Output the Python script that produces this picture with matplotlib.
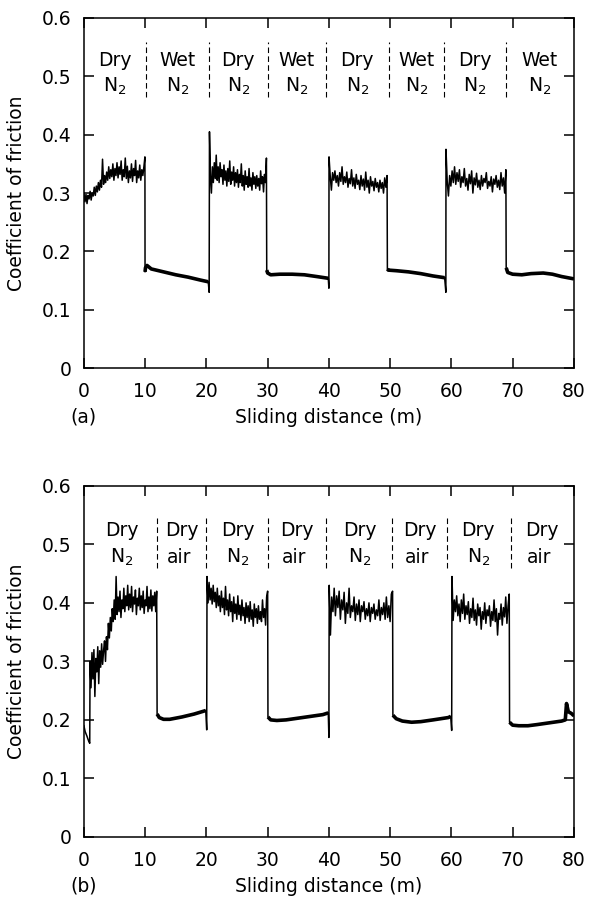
import numpy as np
import matplotlib
matplotlib.use("Agg")
import matplotlib.pyplot as plt

plt.rcParams['font.family'] = ['DejaVu Sans']
plt.rcParams['mathtext.fontset'] = 'dejavusans'

# ---------------- panel (a): dry N2 / wet N2 ----------------
a_dry1_span = (0.0, 9.96)
a_dry1 = [0.300, 0.285, 0.298, 0.282, 0.296, 0.290, 0.303, 0.288, 0.300, 0.295,
          0.310, 0.296, 0.312, 0.302, 0.318, 0.305, 0.322, 0.310, 0.358, 0.315,
          0.330, 0.318, 0.336, 0.322, 0.345, 0.325, 0.340, 0.328, 0.350, 0.322,
          0.342, 0.330, 0.352, 0.326, 0.345, 0.332, 0.355, 0.322, 0.340, 0.328,
          0.360, 0.325, 0.346, 0.318, 0.338, 0.326, 0.350, 0.320, 0.342, 0.330,
          0.356, 0.318, 0.338, 0.326, 0.348, 0.322, 0.340, 0.330, 0.345, 0.362]
a_wet1_x = [9.98, 10.05, 10.3, 11, 13, 15, 17, 19, 20.3, 20.45]
a_wet1_y = [0.165, 0.172, 0.176, 0.170, 0.165, 0.160, 0.156, 0.151, 0.148, 0.130]

a_dry2_span = (20.5, 29.8)
a_dry2 = [0.405, 0.330, 0.300, 0.345, 0.318, 0.352, 0.325, 0.365, 0.322, 0.345,
          0.318, 0.352, 0.328, 0.340, 0.315, 0.348, 0.322, 0.338, 0.312, 0.342,
          0.320, 0.355, 0.315, 0.336, 0.322, 0.345, 0.312, 0.335, 0.318, 0.340,
          0.310, 0.332, 0.318, 0.350, 0.312, 0.330, 0.305, 0.338, 0.315, 0.328,
          0.310, 0.342, 0.312, 0.326, 0.305, 0.335, 0.315, 0.328, 0.308, 0.330,
          0.312, 0.325, 0.305, 0.338, 0.316, 0.328, 0.302, 0.332, 0.318, 0.360]
a_wet2_x = [29.85, 30.0, 30.5, 32, 34, 36, 38, 39.9, 40.0]
a_wet2_y = [0.168, 0.163, 0.160, 0.161, 0.161, 0.160, 0.157, 0.154, 0.137]

a_dry3_span = (40.02, 49.5)
a_dry3 = [0.362, 0.330, 0.305, 0.335, 0.322, 0.338, 0.318, 0.330, 0.312, 0.335,
          0.320, 0.345, 0.315, 0.328, 0.318, 0.336, 0.310, 0.325, 0.316, 0.340,
          0.312, 0.326, 0.308, 0.332, 0.315, 0.322, 0.306, 0.330, 0.312, 0.324,
          0.305, 0.336, 0.310, 0.322, 0.300, 0.328, 0.312, 0.320, 0.304, 0.325,
          0.310, 0.318, 0.302, 0.322, 0.308, 0.318, 0.300, 0.326, 0.310, 0.330]
a_wet3_x = [49.55, 49.7, 51, 53, 55, 57, 58.9, 59.1]
a_wet3_y = [0.170, 0.168, 0.167, 0.165, 0.162, 0.158, 0.155, 0.130]

a_dry4_span = (59.12, 68.9)
a_dry4 = [0.375, 0.320, 0.295, 0.330, 0.312, 0.338, 0.318, 0.345, 0.315, 0.335,
          0.320, 0.340, 0.310, 0.328, 0.318, 0.342, 0.312, 0.325, 0.305, 0.332,
          0.316, 0.338, 0.300, 0.326, 0.314, 0.334, 0.310, 0.322, 0.306, 0.330,
          0.312, 0.325, 0.318, 0.335, 0.308, 0.320, 0.312, 0.328, 0.302, 0.324,
          0.315, 0.330, 0.310, 0.322, 0.306, 0.335, 0.312, 0.326, 0.300, 0.340]
a_wet4_x = [68.95, 69.2, 70, 71.5, 73, 75, 76.5, 78, 80]
a_wet4_y = [0.172, 0.164, 0.161, 0.160, 0.162, 0.163, 0.161, 0.157, 0.153]

a_dividers = [10.1, 20.4, 30.0, 39.5, 49.8, 58.8, 68.9]
a_label_x = [5.05, 15.25, 25.2, 34.75, 44.65, 54.3, 63.85, 74.45]
a_top = ["Dry", "Wet"] * 4
a_bottom = ["N$_2$"] * 8

# ---------------- panel (b): dry N2 / dry air ----------------
b_start_x = [0.0, 0.2, 0.5, 0.8, 0.95]
b_start_y = [0.190, 0.180, 0.172, 0.163, 0.160]

b_dry1_span = (1.0, 11.88)
b_dry1 = [0.300, 0.255, 0.315, 0.270, 0.320, 0.240, 0.305, 0.282, 0.325, 0.262,
          0.318, 0.290, 0.330, 0.295, 0.318, 0.335, 0.300, 0.342, 0.320, 0.365,
          0.340, 0.375, 0.352, 0.390, 0.368, 0.405, 0.372, 0.445, 0.380, 0.410,
          0.385, 0.420, 0.375, 0.405, 0.390, 0.425, 0.385, 0.412, 0.395, 0.430,
          0.388, 0.415, 0.392, 0.428, 0.385, 0.410, 0.398, 0.422, 0.380, 0.408,
          0.395, 0.425, 0.388, 0.412, 0.392, 0.420, 0.382, 0.405, 0.395, 0.428,
          0.385, 0.410, 0.390, 0.422, 0.386, 0.412, 0.395, 0.418, 0.385, 0.420]
b_air1_x = [11.95, 12.3, 13.0, 14.0, 16, 18, 19.9, 20.05]
b_air1_y = [0.210, 0.204, 0.201, 0.201, 0.205, 0.210, 0.216, 0.183]

b_dry2_span = (20.1, 30.0)
b_dry2 = [0.445, 0.400, 0.435, 0.405, 0.425, 0.398, 0.430, 0.402, 0.418, 0.392,
          0.425, 0.395, 0.412, 0.385, 0.420, 0.392, 0.408, 0.380, 0.428, 0.388,
          0.405, 0.378, 0.415, 0.385, 0.402, 0.368, 0.410, 0.382, 0.398, 0.372,
          0.412, 0.380, 0.396, 0.370, 0.405, 0.378, 0.392, 0.365, 0.400, 0.375,
          0.395, 0.368, 0.402, 0.372, 0.388, 0.360, 0.398, 0.375, 0.390, 0.365,
          0.395, 0.372, 0.385, 0.368, 0.405, 0.375, 0.390, 0.362, 0.410, 0.420]
b_air2_x = [30.05, 30.5, 31.5, 33, 35, 37, 39, 39.9, 40.0]
b_air2_y = [0.205, 0.200, 0.199, 0.200, 0.203, 0.206, 0.209, 0.212, 0.170]

b_dry3_span = (40.05, 50.4)
b_dry3 = [0.430, 0.345, 0.410, 0.385, 0.425, 0.378, 0.412, 0.392, 0.420, 0.372,
          0.405, 0.388, 0.418, 0.365, 0.400, 0.382, 0.425, 0.375, 0.395, 0.385,
          0.410, 0.370, 0.398, 0.380, 0.405, 0.368, 0.395, 0.385, 0.402, 0.372,
          0.390, 0.378, 0.400, 0.368, 0.392, 0.382, 0.398, 0.372, 0.388, 0.378,
          0.405, 0.370, 0.392, 0.380, 0.400, 0.372, 0.410, 0.375, 0.395, 0.368,
          0.415, 0.420]
b_air3_x = [50.45, 51, 52, 53.5, 55, 57, 59.5, 59.9, 60.05]
b_air3_y = [0.208, 0.202, 0.198, 0.196, 0.197, 0.200, 0.204, 0.206, 0.182]

b_dry4_span = (60.1, 69.45)
b_dry4 = [0.445, 0.370, 0.405, 0.385, 0.412, 0.378, 0.398, 0.368, 0.405, 0.382,
          0.415, 0.372, 0.395, 0.380, 0.402, 0.365, 0.390, 0.375, 0.408, 0.370,
          0.388, 0.362, 0.398, 0.378, 0.392, 0.355, 0.385, 0.372, 0.400, 0.365,
          0.388, 0.378, 0.395, 0.360, 0.385, 0.370, 0.405, 0.368, 0.390, 0.345,
          0.382, 0.372, 0.398, 0.362, 0.392, 0.376, 0.410, 0.365, 0.395, 0.415]
b_air4_x = [69.5, 70, 71, 72.5, 74, 76, 78, 78.6, 78.8, 79.1, 79.6, 80.0]
b_air4_y = [0.196, 0.191, 0.190, 0.190, 0.192, 0.195, 0.198, 0.200, 0.228, 0.214, 0.211, 0.207]

b_dividers = [11.9, 20.0, 30.0, 39.6, 50.3, 59.3, 69.7]
b_label_x = [6.2, 15.95, 25.1, 34.8, 45.0, 54.8, 64.4, 74.8]
b_top = ["Dry"] * 8
b_bottom = ["N$_2$", "air"] * 4


def noisy(span, vals):
    return np.linspace(span[0], span[1], len(vals)), np.array(vals)


def build(pieces):
    xs, ys = [], []
    for px, py in pieces:
        xs.append(np.asarray(px, float))
        ys.append(np.asarray(py, float))
    return np.concatenate(xs), np.concatenate(ys)


a_x, a_y = build([noisy(a_dry1_span, a_dry1), (a_wet1_x, a_wet1_y),
                  noisy(a_dry2_span, a_dry2), (a_wet2_x, a_wet2_y),
                  noisy(a_dry3_span, a_dry3), (a_wet3_x, a_wet3_y),
                  noisy(a_dry4_span, a_dry4), (a_wet4_x, a_wet4_y)])
# low-friction stretches drawn heavier; last value of a stretch is the thin dip
a_smooth = [(a_wet1_x[:-1], a_wet1_y[:-1]), (a_wet2_x[:-1], a_wet2_y[:-1]),
            (a_wet3_x[:-1], a_wet3_y[:-1]), (a_wet4_x, a_wet4_y)]

b_x, b_y = build([(b_start_x, b_start_y), noisy(b_dry1_span, b_dry1), (b_air1_x, b_air1_y),
                  noisy(b_dry2_span, b_dry2), (b_air2_x, b_air2_y),
                  noisy(b_dry3_span, b_dry3), (b_air3_x, b_air3_y),
                  noisy(b_dry4_span, b_dry4), (b_air4_x, b_air4_y)])
b_smooth = [(b_air1_x[:-1], b_air1_y[:-1]), (b_air2_x[:-1], b_air2_y[:-1]),
            (b_air3_x[:-1], b_air3_y[:-1]), (b_air4_x, b_air4_y)]

fig = plt.figure(figsize=(5.91, 8.98), dpi=100)
ax_a = fig.add_axes([0.142, 0.590, 0.829, 0.390])
ax_b = fig.add_axes([0.142, 0.068, 0.829, 0.391])

FS = 13.5


def style(ax, tag, x, y, smooth, dividers, lab_x, top, bottom, dv, ty, by):
    ax.plot(x, y, color='k', lw=1.1)
    for sx, sy in smooth:
        ax.plot(sx, sy, color='k', lw=2.6, solid_capstyle='butt')
    for d in dividers:
        ax.plot([d, d], dv, color='k', lw=0.8, linestyle=(0, (5, 3)))
    for lx, t, b in zip(lab_x, top, bottom):
        ax.text(lx, ty, t, ha='center', va='baseline', fontsize=FS)
        if b == "air":
            ax.text(lx - 2.45, by, b, ha='left', va='baseline', fontsize=FS)
        else:
            ax.text(lx, by, b, ha='center', va='baseline', fontsize=FS)
    ax.set_xlim(0, 80)
    ax.set_ylim(0, 0.6)
    ax.set_xticks(np.arange(0, 81, 10))
    ax.set_yticks(np.arange(0, 0.61, 0.1))
    ax.set_yticklabels(['0', '0.1', '0.2', '0.3', '0.4', '0.5', '0.6'])
    ax.tick_params(direction='in', length=7, width=1.1, top=True, right=True,
                   labelsize=FS)
    ax.tick_params(axis='x', pad=10)
    ax.tick_params(axis='y', pad=9)
    for s in ax.spines.values():
        s.set_linewidth(1.1)
    ax.set_ylabel('Coefficient of friction', fontsize=FS)
    ax.yaxis.set_label_coords(-0.118, 0.5)
    ax.set_xlabel('Sliding distance (m)', fontsize=FS)
    ax.xaxis.set_label_coords(0.5, -0.113)
    ax.text(0.0, -0.113, tag, transform=ax.transAxes, ha='center', va='top',
            fontsize=FS)


style(ax_a, '(a)', a_x, a_y, a_smooth, a_dividers, a_label_x, a_top, a_bottom,
      [0.464, 0.559], 0.518, 0.474)
style(ax_b, '(b)', b_x, b_y, b_smooth, b_dividers, b_label_x, b_top, b_bottom,
      [0.459, 0.550], 0.5145, 0.468)

fig.savefig('out.png', dpi=100)
